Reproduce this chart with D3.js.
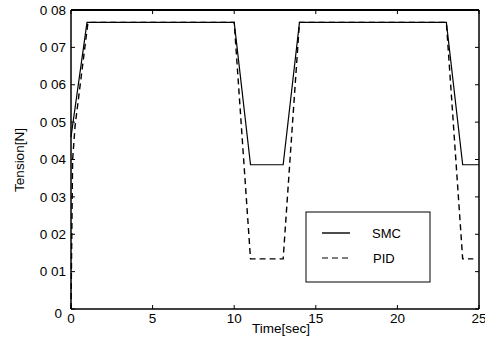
<!DOCTYPE html>
<html><head><meta charset="utf-8">
<script src="https://cdn.jsdelivr.net/npm/d3@7"></script>
<style>body{margin:0;background:#fff}svg text{font-family:"Liberation Sans",Arial,sans-serif;fill:#000}</style>
</head><body>
<svg id="c" width="485" height="347"></svg>
<script>
const xTicks = [0, 5, 10, 15, 20, 25];
const xTickLabels = ["0", "5", "10", "15", "20", "25"];
const yTicks = [0, 0.01, 0.02, 0.03, 0.04, 0.05, 0.06, 0.07, 0.08];
const yTickLabels = ["0", "0 01", "0 02", "0 03", "0 04", "0 05", "0 06", "0 07", "0 08"];
const smcTime  = [0, 0.98, 10.0, 11.0, 13.0, 14.0, 23.0, 24.0, 25.0];
const smcValue = [0.046, 0.0767, 0.0767, 0.0386, 0.0386, 0.0767, 0.0767, 0.0386, 0.0386];
const pidTime  = [0, 0.1, 0.25, 1.04, 10.0, 11.0, 13.0, 14.0, 23.0, 24.0, 24.65];
const pidValue = [0, 0.040, 0.049, 0.0767, 0.0767, 0.0134, 0.0134, 0.0767, 0.0767, 0.0134, 0.0134];
const seriesNames = ["SMC", "PID"];
const xLabel = "Time[sec]";
const yLabel = "Tension[N]";

const svg = d3.select("#c");
const L = 71, R = 479, T = 10, B = 309;
const x = d3.scaleLinear().domain([0, 25]).range([L, R]);
const y = d3.scaleLinear().domain([0, 0.08]).range([B, T]);

// frame
svg.append("line").attr("x1", L).attr("x2", R).attr("y1", B).attr("y2", B).attr("stroke", "#000").attr("stroke-width", 1.5);
svg.append("line").attr("x1", L).attr("x2", R).attr("y1", T).attr("y2", T).attr("stroke", "#000").attr("stroke-width", 2);
svg.append("line").attr("x1", L).attr("x2", L).attr("y1", T).attr("y2", B).attr("stroke", "#000").attr("stroke-width", 1.5);
svg.append("line").attr("x1", R).attr("x2", R).attr("y1", T).attr("y2", B).attr("stroke", "#000").attr("stroke-width", 1.5);

// ticks
const tl = 4;
xTicks.forEach((t, i) => {
  svg.append("line").attr("x1", x(t)).attr("x2", x(t)).attr("y1", B).attr("y2", B - tl).attr("stroke", "#000");
  svg.append("line").attr("x1", x(t)).attr("x2", x(t)).attr("y1", T).attr("y2", T + tl).attr("stroke", "#000");
  svg.append("text").attr("x", x(t)).attr("y", 323).attr("text-anchor", "middle").attr("font-size", 13.5).text(xTickLabels[i]);
});
yTicks.forEach((t, i) => {
  svg.append("line").attr("x1", L).attr("x2", L + tl).attr("y1", y(t)).attr("y2", y(t)).attr("stroke", "#000");
  svg.append("line").attr("x1", R).attr("x2", R - tl).attr("y1", y(t)).attr("y2", y(t)).attr("stroke", "#000");
  svg.append("text").attr("x", i === 0 ? 62 : 66).attr("y", y(t) + (i === 0 ? 4 : 0)).attr("dy", "0.35em")
    .attr("text-anchor", "end").attr("font-size", 13.5).text(yTickLabels[i]);
});

const line = d3.line().x(d => x(d[0])).y(d => y(d[1]));
const smc = smcTime.map((t, i) => [t, smcValue[i]]);
const pid = pidTime.map((t, i) => [t, pidValue[i]]);
svg.append("path").attr("d", line(pid)).attr("fill", "none").attr("stroke", "#000").attr("stroke-width", 1.4).attr("stroke-dasharray", "6,4");
svg.append("path").attr("d", line(smc)).attr("fill", "none").attr("stroke", "#000").attr("stroke-width", 1.2);

// legend
svg.append("rect").attr("x", 306).attr("y", 212).attr("width", 124).attr("height", 70).attr("fill", "#fff").attr("stroke", "#000").attr("stroke-width", 1);
svg.append("line").attr("x1", 322).attr("x2", 350).attr("y1", 233).attr("y2", 233).attr("stroke", "#000").attr("stroke-width", 1.4);
svg.append("line").attr("x1", 322).attr("x2", 350).attr("y1", 258).attr("y2", 258).attr("stroke", "#000").attr("stroke-width", 1.2).attr("stroke-dasharray", "6,4");
svg.append("text").attr("x", 372).attr("y", 238).attr("font-size", 13).text(seriesNames[0]);
svg.append("text").attr("x", 373).attr("y", 263).attr("font-size", 13).text(seriesNames[1]);

// axis labels
svg.append("text").attr("x", 281).attr("y", 333).attr("text-anchor", "middle").attr("font-size", 13.5).text(xLabel);
svg.append("text").attr("transform", "translate(24,160) rotate(-90)").attr("text-anchor", "middle").attr("font-size", 13.5).text(yLabel);
</script>
</body></html>
